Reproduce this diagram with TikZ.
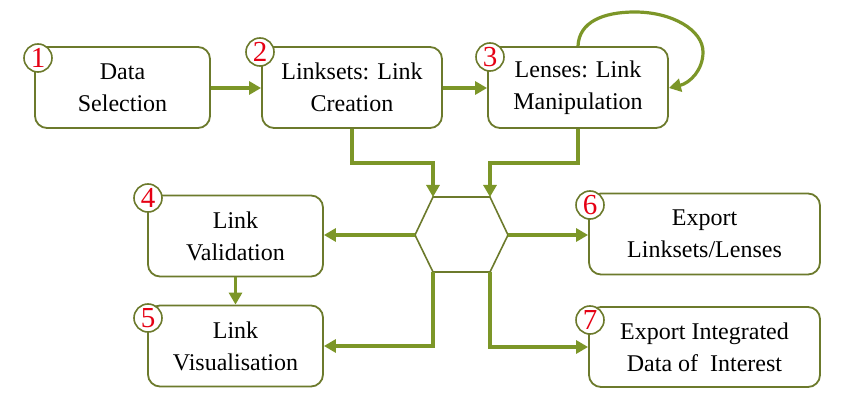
\documentclass[tikz,border=0pt]{standalone}
\usepackage{fontspec}
\setmainfont{Liberation Serif}
\usetikzlibrary{arrows.meta}
\definecolor{boxc}{RGB}{108,122,44}
\definecolor{arrc}{RGB}{124,150,40}
\definecolor{numc}{RGB}{230,0,20}
\tikzset{
  box/.style={draw=boxc, line width=1.8pt, rounded corners=12pt, fill=white,
    minimum width=#1, minimum height=81pt, align=center, inner sep=0pt,
    font=\fontsize{24}{32}\selectfont},
  box/.default=175pt,
  badge/.style={draw=boxc, line width=1.6pt, fill=white, circle, minimum size=28pt, inner sep=0pt,
    text=numc, font=\fontsize{29}{29}\selectfont},
  conn/.style={draw=arrc, line width=3.2pt, -{Triangle[length=12pt,width=13pt]}},
  hexs/.style={draw=boxc, line width=1.6pt, fill=white}
}
\begin{document}
\begin{tikzpicture}[x=1pt,y=-1pt]
\useasboundingbox (0,0) rectangle (847,406);
% boxes
\node[box] (b1) at (122.5,87.5) {Data\\Selection};
\node[box=180pt] (b2) at (352,87.5) {Linksets: Link\\Creation};
\node[box=180pt] (b3) at (578,87.5) {Lenses: Link\\Manipulation};
\node[box] (b4) at (235.5,236) {Link\\Validation};
\node[box] (b5) at (235.5,346) {Link\\Visualisation};
\node[box=231pt] (b6) at (704.5,234) {Export\\Linksets/Lenses};
\node[box=231pt, minimum height=80pt] (b7) at (704.5,347) {Export Integrated\\Data of~ Interest};
% hexagon
\coordinate (hl) at (415,235);
\coordinate (htl) at (433,197);
\coordinate (htr) at (490,197);
\coordinate (hr) at (508,235);
\coordinate (hbr) at (490,272);
\coordinate (hbl) at (433,272);
\draw[hexs] (hl) -- (htl) -- (htr) -- (hr) -- (hbr) -- (hbl) -- cycle;
% connectors
\draw[conn] (b1.east |- 0,88) -- (b2.west |- 0,88);
\draw[conn] (b2.east |- 0,88) -- (b3.west |- 0,88);
\draw[conn] (b2.south) |- (433,163) -- (htl);
\draw[conn] (b3.south) |- (490,163) -- (htr);
\draw[conn] (hl) -- (b4.east |- hl);
\draw[conn] (hr) -- (b6.west |- hr);
\draw[conn] (hbl) |- (b5.east |- 0,346);
\draw[conn] (hbr) |- (b7.west |- 0,347);
\draw[conn] (b4.south) -- (b5.north);
\draw[conn] (b3.north) .. controls (579,22) and (603,12) .. (635,12)
  .. controls (672,12) and (703,30) .. (703,52)
  .. controls (703,70) and (690,83) .. (b3.east |- 0,88);
% badges
\node[badge] (n1) at (38,58) {1};
\node[badge] (n2) at (260,52) {2};
\node[badge] (n3) at (490,57) {3};
\node[badge] (n4) at (148,198) {4};
\node[badge] (n5) at (148,318) {5};
\node[badge] (n6) at (590,205) {6};
\node[badge] (n7) at (590,320) {7};
\end{tikzpicture}
\end{document}
